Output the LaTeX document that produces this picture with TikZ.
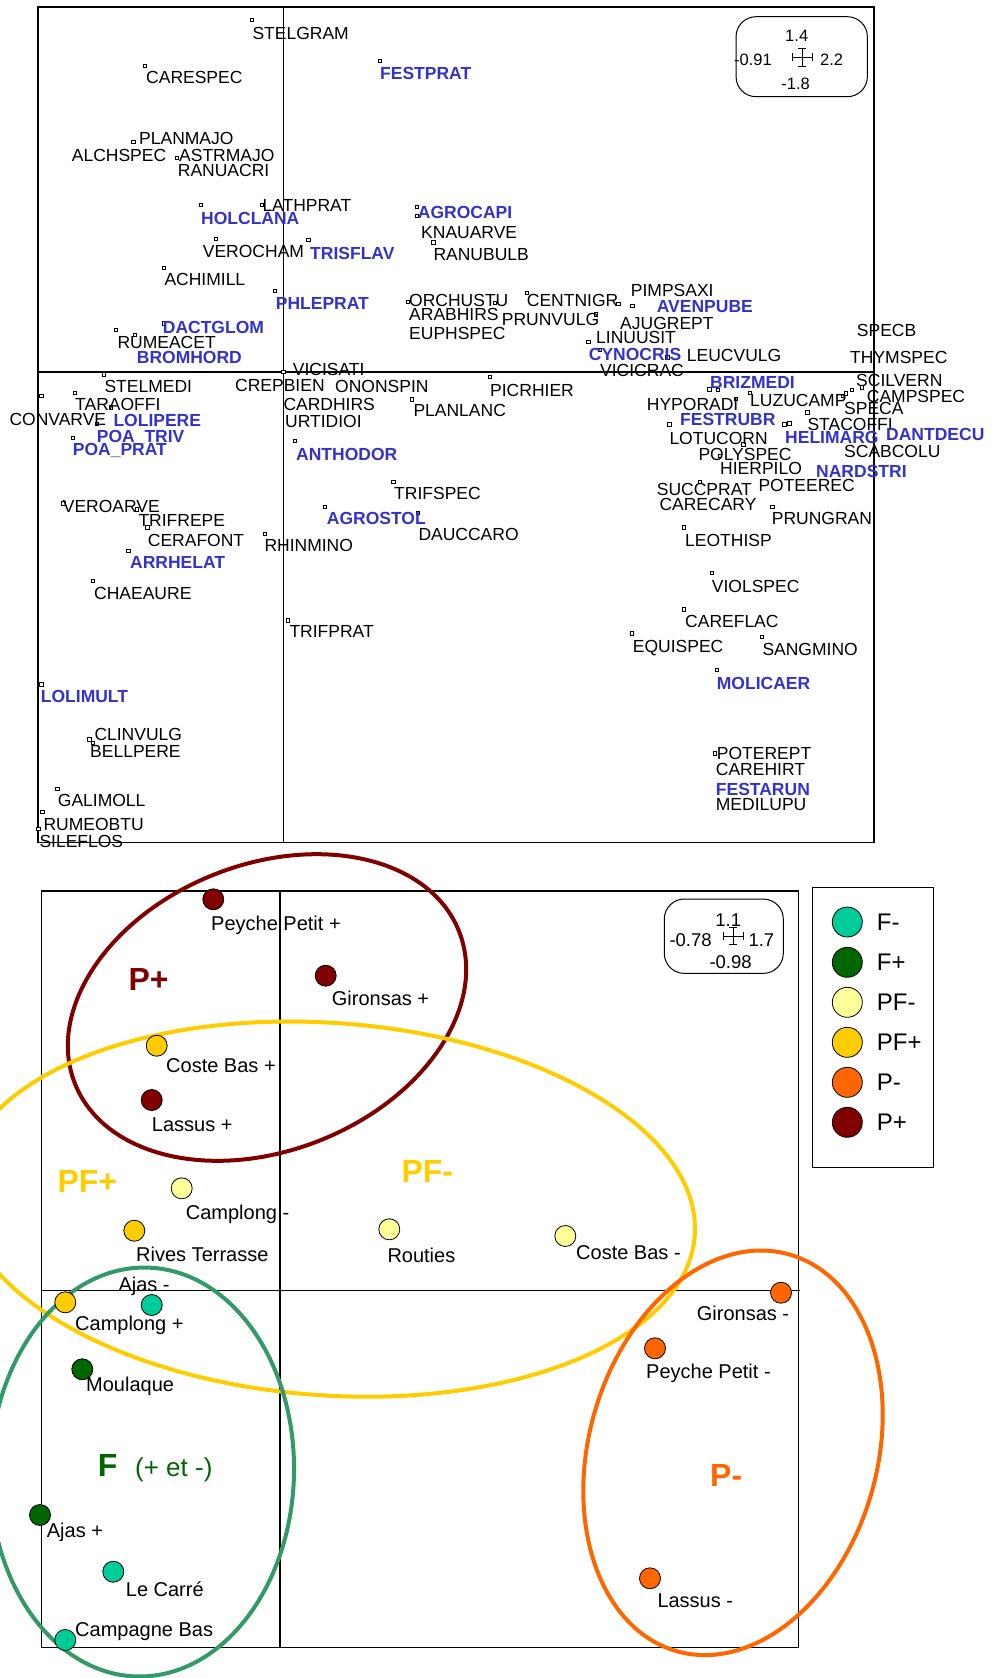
\documentclass[tikz,border=0pt]{standalone}
\usepackage{fontspec}
\setmainfont{Liberation Sans}
\definecolor{spblue}{RGB}{51,51,204}
\definecolor{cFm}{RGB}{0,204,153}
\definecolor{cFp}{RGB}{0,102,0}
\definecolor{cPFm}{RGB}{255,255,153}
\definecolor{cPFp}{RGB}{255,204,0}
\definecolor{cPm}{RGB}{255,102,0}
\definecolor{cPp}{RGB}{128,0,0}
\definecolor{cFring}{RGB}{51,153,102}
\newcommand\spfont{\fontsize{17.5}{18}\selectfont}
\newcommand\sitefont{\fontsize{20}{22}\selectfont}
\newcommand\grpfont{\fontsize{32}{34}\selectfont\bfseries}
\newcommand\scfont{\fontsize{16.5}{18}\selectfont}
\begin{document}
\begin{tikzpicture}[x=1pt,y=-1pt,
  frame/.style={draw=black, line width=1.2pt},
  mk/.style={draw=black, line width=0.7pt, minimum size=3.5pt, inner sep=0pt, fill=white},
  lb/.style={anchor=base west, inner sep=0pt, font=\spfont, text=black},
  bl/.style={anchor=base west, inner sep=0pt, font=\spfont\bfseries, text=spblue},
  pt/.style={circle, draw=black, line width=0.8pt, minimum size=21pt, inner sep=0pt},
  site/.style={anchor=base west, inner sep=0pt, font=\sitefont},
  grp/.style={anchor=base west, inner sep=0pt, font=\grpfont},
  ring/.style={line width=4pt},
  scalebox/.style={draw=black, line width=1pt, rounded corners=20pt, inner sep=0pt},
  sc/.style={inner sep=0pt, font=\scfont},
  legdot/.style={circle, draw=black, line width=0.8pt, minimum size=30pt, inner sep=0pt},
  legtxt/.style={anchor=base west, inner sep=0pt, font=\fontsize{24}{26}\selectfont}]
\useasboundingbox (0,0) rectangle (991,1678);

% ---------- species plane ----------
\coordinate (fA1) at (38,7);
\coordinate (fA2) at (874,842.7);
\draw[frame] (fA1) rectangle (fA2);
\coordinate (vA1) at (283.5,7);
\coordinate (vA2) at (283.5,842.7);
\coordinate (hA1) at (38,372);
\coordinate (hA2) at (874,372);
\draw[frame] (vA1) -- (vA2);
\draw[frame] (hA1) -- (hA2);
\coordinate (dA1) at (43,371.5);
\coordinate (dA2) at (55,371.5);
\draw[line width=2pt] (dA1) -- (dA2);

% species points
\foreach \x/\y [count=\i] in {251.7/20, 145/65.7, 379.7/60.7, 133.3/141.7, 176.7/157.7,
  201/205, 261.7/205, 416.7/206.7, 416.7/216, 216/239, 308.3/240, 433.3/242.3,
  164/267.7, 275/291, 407.7/301.7, 495/302.7, 164/323.3, 116/330, 135/335,
  526.7/292.7, 618.3/304, 632.3/306, 596/314.3, 588.3/341.7, 600/350, 667.3/357.3,
  490/377, 709.3/389.3, 717.7/390, 750/392.7, 735.7/399, 807.3/412.3, 842.7/396,
  846/393.3, 851.7/390, 862/387.3, 669.3/424.3, 784.3/424.3, 789.3/423.3,
  743.3/444.3, 720/456, 700/481.7, 772.3/506.7, 684/527.3, 711.7/573,
  103.7/374.3, 41.3/395.7, 74.7/392.7, 111/407.3, 96.7/424, 72.7/437.7,
  411.7/399.3, 295/441, 393.3/481.7, 325/506.7, 417.7/512.7, 63.3/503.3,
  136.7/509.3, 147.3/527.3, 265/534, 128.3/550.7, 92.7/581, 288/620.5,
  41.3/684.3, 89.3/739.3, 92.7/742.7, 57.3/788.7, 42.3/812, 38.3/828.7,
  684/609.3, 631.7/633.3, 761.7/636.7, 716.7/670, 715/753.3, 283.5/372}
  \node[mk] (m\i) at (\x,\y) {};

% species names
\foreach \x/\y/\t [count=\i] in {252.3/39.7/STELGRAM, 146/84/CARESPEC, 139/144/PLANMAJO,
  71.7/161.7/ALCHSPEC, 179/161.7/ASTRMAJO, 177.7/176.7/RANUACRI, 262.3/211/LATHPRAT,
  421/238.7/KNAUARVE, 202.7/257.7/VEROCHAM, 433.3/260.7/RANUBULB, 164.3/285.7/ACHIMILL,
  409/306/ORCHUSTU, 409/320/ARABHIRS, 409/339.3/EUPHSPEC, 117.3/348.3/RUMEACET,
  292.7/375/VICISATI, 526.7/306.7/CENTNIGR, 630.7/296.7/PIMPSAXI, 501.7/325/PRUNVULG,
  620/329.3/AJUGREPT, 596/343.3/LINUUSIT, 686.7/361.7/LEUCVULG, 600/376/VICICRAC,
  856.7/336.3/SPECB, 850/363.3/THYMSPEC, 856/386.7/SCILVERN, 866.7/402.3/CAMPSPEC,
  646.7/410/HYPORADI, 750/406.7/LUZUCAMP, 844/414/SPECA, 807.3/430.7/STACOFFI,
  669.3/444/LOTUCORN, 844/457.3/SCABCOLU, 698.3/460.7/POLYSPEC, 720/474.3/HIERPILO,
  656.7/495/SUCCPRAT, 758.3/491.7/POTEEREC, 659.3/510/CARECARY, 771.7/524.3/PRUNGRAN,
  685/546/LEOTHISP, 711.7/592/VIOLSPEC, 104.3/392.7/STELMEDI, 235/391.7/CREPBIEN,
  335/392.7/ONONSPIN, 490/396/PICRHIER, 75/410/TARAOFFI, 283.3/410/CARDHIRS,
  413.3/416.7/PLANLANC, 9.3/425/CONVARVE, 285/427.3/URTIDIOI, 394/499/TRIFSPEC,
  62.7/512.7/VEROARVE, 138.3/526/TRIFREPE, 418.3/540.7/DAUCCARO, 147.7/546.7/CERAFONT,
  264.3/551/RHINMINO, 94/599.3/CHAEAURE, 289.3/637.7/TRIFPRAT, 94.3/740.7/CLINVULG,
  90/757.3/BELLPERE, 57.7/806.7/GALIMOLL, 43.3/830.7/RUMEOBTU, 39.3/847.3/SILEFLOS,
  685/627.7/CAREFLAC, 632.7/652.3/EQUISPEC, 762.3/655/SANGMINO, 716.7/759.3/POTEREPT,
  715.7/775/CAREHIRT, 715.7/810/MEDILUPU}
  \node[lb] (t\i) at (\x,\y) {\t};

\foreach \x/\y/\t [count=\i] in {380/79/FESTPRAT, 201/224/HOLCLANA, 417.7/218.3/AGROCAPI,
  310/259/TRISFLAV, 275.7/309.3/PHLEPRAT, 162.7/333.3/DACTGLOM, 136.7/363.3/BROMHORD,
  656.7/312.7/AVENPUBE, 588.7/360.7/CYNOCRIS, 710/388.3/BRIZMEDI, 680/425/FESTRUBR,
  785/443.3/HELIMARG, 886/440.7/DANTDECU, 816/477.3/NARDSTRI, 113.3/426/LOLIPERE,
  96.7/442.7/POA\_TRIV, 72.7/455.3/POA\_PRAT, 296/460/ANTHODOR, 326.7/524.3/AGROSTOL,
  130/568.3/ARRHELAT, 40.7/702.7/LOLIMULT, 716.7/689.3/MOLICAER, 715.7/795/FESTARUN}
  \node[bl] (b\i) at (\x,\y) {\t};

% scale key of the species plane
\node[scalebox, minimum width=131.3pt, minimum height=80pt] (keyA) at (801.7,56.7) {};
\node[sc, anchor=base] (keyAt) at (796.7,41.7) {1.4};
\node[sc, anchor=base west] (keyAl) at (734,66) {-0.91};
\node[sc, anchor=base west] (keyAr) at (820,66) {2.2};
\node[sc, anchor=base] (keyAb) at (795.7,89.3) {-1.8};
\draw[line width=1pt] (792.3,57.3) -- (812.7,57.3) (802.3,48.3) -- (802.3,66.7)
  (792.3,53.3) -- (792.3,61.3) (812.7,53.3) -- (812.7,61.3)
  (798.3,48.3) -- (806.3,48.3) (798.3,66.7) -- (806.3,66.7);

% ---------- site plane ----------
\coordinate (fB1) at (41.7,891);
\coordinate (fB2) at (798.3,1647.3);
\draw[frame] (fB1) rectangle (fB2);
\coordinate (vB1) at (280,891);
\coordinate (vB2) at (280,1647.3);
\coordinate (hB1) at (41.7,1290.7);
\coordinate (hB2) at (800,1290.7);
\draw[frame] (vB1) -- (vB2);
\draw[frame] (hB1) -- (hB2);

% group outlines
\draw[ring, draw=cPp, rotate around={21.65:(267,1007.5)}]
  (267,1007.5) ellipse [x radius=206.6pt, y radius=143.1pt];
\draw[ring, draw=cPFp, rotate around={-4.12:(328.3,1209.1)}]
  (328.3,1209.1) ellipse [x radius=367.4pt, y radius=186.2pt];
\draw[ring, draw=cFring, rotate around={-1.5:(142,1472)}]
  (142,1472) ellipse [x radius=152pt, y radius=204.5pt];
\draw[ring, draw=cPm, rotate around={-15.8:(733,1452.8)}]
  (733,1452.8) ellipse [x radius=144.2pt, y radius=206.2pt];

% sites
\node[pt, fill=cPp] (ppP) at (213.3,899.3) {};
\node[pt, fill=cPp] (giP) at (325.7,975.7) {};
\node[pt, fill=cPp] (laP) at (151.7,1100) {};
\node[pt, fill=cPFp] (cbP) at (156.7,1045.7) {};
\node[pt, fill=cPFp] (rt) at (134.3,1230.7) {};
\node[pt, fill=cPFp] (caP) at (65.3,1302.3) {};
\node[pt, fill=cPFm] (caM) at (181.7,1188.3) {};
\node[pt, fill=cPFm] (ro) at (389.3,1229.3) {};
\node[pt, fill=cPFm] (cbM) at (565.3,1236) {};
\node[pt, fill=cFm] (ajM) at (151.7,1305) {};
\node[pt, fill=cFm] (lc) at (113.3,1571.7) {};
\node[pt, fill=cFm] (cpb) at (65.3,1640) {};
\node[pt, fill=cFp] (mo) at (82.3,1369.3) {};
\node[pt, fill=cFp] (ajP) at (40,1515) {};
\node[pt, fill=cPm] (giM) at (781,1292.7) {};
\node[pt, fill=cPm] (ppM) at (655,1348.3) {};
\node[pt, fill=cPm] (laM) at (650,1578.3) {};

\node[site] (lppP) at (211,930) {Peyche Petit +};
\node[site] (lgiP) at (331.7,1005) {Gironsas +};
\node[site] (lcbP) at (166,1072.7) {Coste Bas +};
\node[site] (llaP) at (151.7,1131.7) {Lassus +};
\node[site] (lcaM) at (185.7,1219.3) {Camplong -};
\node[site] (lrt) at (136,1261.7) {Rives Terrasse};
\node[site] (lro) at (387.3,1262.7) {Routies};
\node[site] (lcbM) at (576,1259) {Coste Bas -};
\node[site] (lajM) at (118.3,1291.7) {Ajas -};
\node[site] (lcaP) at (75,1330) {Camplong +};
\node[site] (lgiM) at (696.7,1320) {Gironsas -};
\node[site] (lmo) at (86,1391) {Moulaque};
\node[site] (lppM) at (646,1378.3) {Peyche Petit -};
\node[site] (lajP) at (46.7,1537.7) {Ajas +};
\node[site] (llc) at (125.7,1596) {Le Carré};
\node[site] (llaM) at (657.3,1607.7) {Lassus -};
\node[site] (lcpb) at (75,1636.7) {Campagne Bas};

% group names
\node[grp, text=cPp] (gPp) at (128.3,990) {P+};
\node[grp, text=cPFp] (gPFp) at (57.3,1192.7) {PF+};
\node[grp, text=cPFp] (gPFm) at (401.3,1182) {PF-};
\node[grp, text=cPm] (gPm) at (710,1486.7) {P-};
\node[grp, text=cFp] (gF) at (97.7,1476.7) {F};
\node[anchor=base west, inner sep=0pt, text=cFp, font=\fontsize{26}{28}\selectfont] (gFs) at (135,1476.7) {(+ et -)};

% scale key of the site plane
\node[scalebox, minimum width=119pt, minimum height=74.3pt] (keyB) at (723.8,936.2) {};
\node[sc, anchor=base, font=\fontsize{18.5}{20}\selectfont] (keyBt) at (728.3,926) {1.1};
\node[sc, anchor=base west, font=\fontsize{18.5}{20}\selectfont] (keyBl) at (669.3,946.7) {-0.78};
\node[sc, anchor=base west, font=\fontsize{18.5}{20}\selectfont] (keyBr) at (748.3,946.7) {1.7};
\node[sc, anchor=base west, font=\fontsize{18.5}{20}\selectfont] (keyBb) at (709.3,968.3) {-0.98};
\draw[line width=1pt] (723.3,936) -- (743.3,936) (733.3,927.3) -- (733.3,944)
  (723.3,932) -- (723.3,940) (743.3,932) -- (743.3,940)
  (729.3,927.3) -- (737.3,927.3) (729.3,944) -- (737.3,944);

% legend
\node[draw=black, line width=1.2pt, minimum width=121pt, minimum height=280pt, inner sep=0pt] (leg) at (872.8,1027.3) {};
\foreach \c/\t/\y [count=\i] in {cFm/F-/922, cFp/F+/962.3, cPFm/PF-/1002.3,
  cPFp/PF+/1042.3, cPm/P-/1082.3, cPp/P+/1122.3} {
  \node[legdot, fill=\c] (ld\i) at (847.3,\y) {};
  \node[legtxt] (lt\i) at (876.7,\y+8) {\t};
}
\end{tikzpicture}
\end{document}
